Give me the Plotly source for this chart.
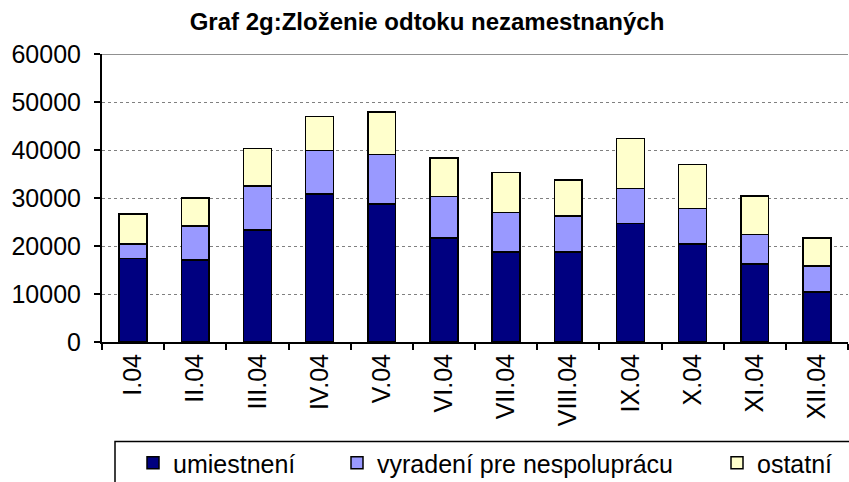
import plotly.graph_objects as go

months = ["I.04", "II.04", "III.04", "IV.04", "V.04", "VI.04", "VII.04",
          "VIII.04", "IX.04", "X.04", "XI.04", "XII.04"]
umiestneni = [17400, 17100, 23300, 30800, 28700, 21700, 18700, 18700, 24700, 20400, 16200, 10400]
vyradeni = [3000, 7100, 9200, 9100, 10400, 8600, 8300, 7500, 7300, 7400, 6200, 5400]
ostatni = [6300, 5800, 7800, 7100, 8800, 8000, 8300, 7500, 10400, 9200, 8000, 5900]
y_ticks = [0, 10000, 20000, 30000, 40000, 50000, 60000]

series = [
    ("umiestnení", umiestneni, "#000080"),
    ("vyradení pre nespoluprácu", vyradeni, "#9999FF"),
    ("ostatní", ostatni, "#FFFFCC"),
]

W, H = 849, 482
ml, mr, mt, mb = 102, 1, 54, 140
pw, ph = W - ml - mr, H - mt - mb


def px_x(p):
    return (p - ml) / pw


def px_y(p):
    return (H - mb - p) / ph


legend_names = ["legend", "legend2", "legend3"]
legend_left = [133, 337, 717]

fig = go.Figure()
for (name, vals, color), lg in zip(series, legend_names):
    fig.add_trace(go.Bar(
        x=months, y=vals, name=name, legend=lg,
        marker=dict(color=color, line=dict(color="black", width=1.5)),
    ))

legend_common = dict(orientation="h", xanchor="left", yanchor="middle",
                     y=px_y(463), bgcolor="rgba(0,0,0,0)", borderwidth=0,
                     font=dict(size=25), itemwidth=30)

fig.update_layout(
    width=W, height=H,
    barmode="stack", bargap=0.55,
    paper_bgcolor="white", plot_bgcolor="white",
    margin=dict(l=ml, r=mr, t=mt, b=mb, autoexpand=False),
    font=dict(family="Liberation Sans, Arial, sans-serif", color="black", size=25),
    title=dict(text="<b>Graf 2g:Zloženie odtoku nezamestnaných</b>",
               x=427 / W, xanchor="center", y=1 - 22 / H, yanchor="middle",
               font=dict(size=24, color="black")),
    showlegend=True,
    legend=dict(x=px_x(legend_left[0]), **legend_common),
    legend2=dict(x=px_x(legend_left[1]), **legend_common),
    legend3=dict(x=px_x(legend_left[2]), **legend_common),
)
fig.update_xaxes(
    showline=True, linecolor="black", linewidth=2,
    ticks="outside", tickson="boundaries", ticklen=6, tickwidth=2, tickcolor="black",
    tickangle=-90, showgrid=False, tickfont=dict(size=25),
)
fig.update_yaxes(
    range=[0, 60000], tickvals=y_ticks, ticktext=[str(v) for v in y_ticks],
    showline=True, linecolor="black", linewidth=2,
    ticks="outside", ticklen=6, tickwidth=2, tickcolor="black",
    ticklabelstandoff=8,
    showgrid=True, gridcolor="#808080", griddash="dot", gridwidth=1,
    zeroline=False, tickfont=dict(size=25),
)
# solid gray top border of plot area
fig.add_shape(type="line", xref="paper", yref="y", x0=0, x1=1, y0=60000, y1=60000,
              line=dict(color="#909090", width=2))
# legend frame (extends past the bottom/right edges as in the reference)
fig.add_shape(type="rect", xref="paper", yref="paper",
              x0=px_x(115), x1=px_x(870), y0=px_y(441.5), y1=px_y(500),
              line=dict(color="black", width=1.5), fillcolor="rgba(0,0,0,0)")
fig.write_html("out.html", config={"displayModeBar": False},
               post_script="document.body.style.margin='0';document.body.style.overflow='hidden';")
